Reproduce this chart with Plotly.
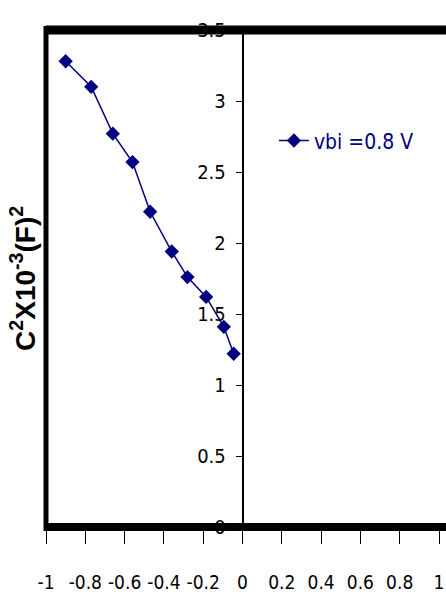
import plotly.graph_objects as go

# Data
bias_v = [-0.90, -0.77, -0.66, -0.56, -0.47, -0.36, -0.28, -0.185, -0.095, -0.045]
c2_vals = [3.28, 3.10, 2.77, 2.57, 2.22, 1.94, 1.76, 1.62, 1.41, 1.22]
series_name = "vbi =0.8 V"
x_ticks = [-1, -0.8, -0.6, -0.4, -0.2, 0, 0.2, 0.4, 0.6, 0.8, 1]
y_ticks = [0, 0.5, 1, 1.5, 2, 2.5, 3, 3.5]
y_title = "C<sup>2</sup>X10<sup>-3</sup>(F)<sup>2</sup>"

NAVY = "#000080"
FONT = "DejaVu Sans Condensed, Liberation Sans Narrow, Arial Narrow, sans-serif"

fig = go.Figure()
fig.add_trace(go.Scatter(
    x=bias_v, y=c2_vals, mode="lines+markers", name=series_name,
    line=dict(color=NAVY, width=1.5),
    marker=dict(symbol="diamond", size=11, color=NAVY),
))

fig.update_layout(
    width=446, height=611,
    margin=dict(l=46, r=7, t=30, b=84),
    paper_bgcolor="white", plot_bgcolor="white",
    font=dict(family=FONT, size=20, color="black"),
    showlegend=True,
    legend=dict(x=0.58, y=0.777, xanchor="left", yanchor="middle",
                bgcolor="rgba(0,0,0,0)", borderwidth=0,
                font=dict(family=FONT, size=21, color=NAVY)),
    xaxis=dict(range=[-1, 1], tickvals=x_ticks,
               ticktext=[("%g" % v) for v in x_ticks],
               tickangle=0, ticklabeloverflow="allow", automargin=False,
               ticks="outside", ticklen=16, tickwidth=1, tickcolor="black",
               showgrid=False, zeroline=False, showline=False,
               ticklabelstandoff=22,
               tickfont=dict(family=FONT, size=19, color="black")),
    yaxis=dict(range=[0, 3.5], tickvals=y_ticks,
               ticktext=[("%g" % v) for v in y_ticks],
               anchor="free", position=0.5, side="left",
               ticks="outside", ticklen=6, tickwidth=1, tickcolor="black",
               showline=True, linewidth=1.5, linecolor="black",
               showgrid=False, zeroline=False,
               ticklabelstandoff=6,
               tickfont=dict(family=FONT, size=20, color="black")),
    shapes=[
        dict(type="line", xref="paper", yref="paper", x0=0, x1=1.02, y0=1, y1=1,
             line=dict(color="black", width=9)),
        dict(type="line", xref="paper", yref="paper", x0=0, x1=1.02, y0=0, y1=0,
             line=dict(color="black", width=8)),
        dict(type="line", xref="paper", yref="paper", x0=0, x1=0, y0=-0.008, y1=1.008,
             line=dict(color="black", width=5)),
    ],
    annotations=[
        dict(text=y_title, xref="paper", yref="paper", x=-0.06, y=0.5,
             xanchor="center", yanchor="middle", textangle=-90, showarrow=False,
             font=dict(family="Liberation Sans, Arial, sans-serif", size=28,
                       color="black", weight="bold")),
    ],
)

fig.write_html("out.html")
